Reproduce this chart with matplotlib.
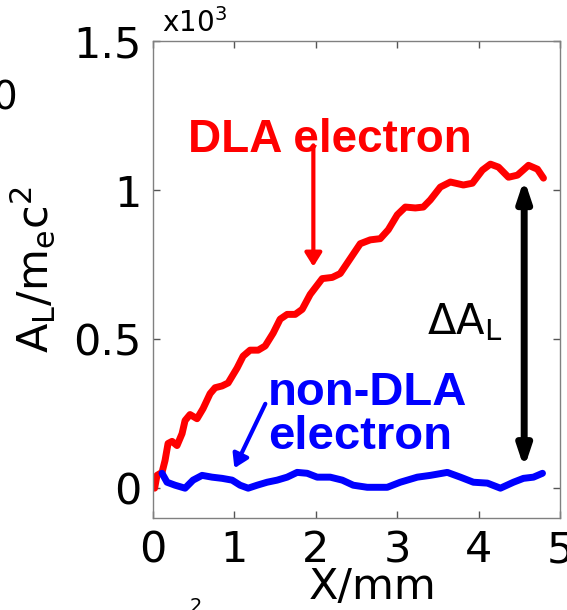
import matplotlib
matplotlib.use("Agg")
import matplotlib.pyplot as plt

# DLA electron: longitudinal work A_L (x10^3 m_e c^2) vs X (mm)
dla_x = [0.02, 0.049, 0.111, 0.148, 0.185, 0.234, 0.295, 0.357, 0.394, 0.455, 0.541,
         0.615, 0.701, 0.763, 0.849, 0.923, 1.033, 1.107, 1.193, 1.292, 1.378, 1.476,
         1.562, 1.648, 1.747, 1.833, 1.931, 2.079, 2.202, 2.300, 2.423, 2.546, 2.669,
         2.792, 2.891, 3.001, 3.100, 3.223, 3.321, 3.407, 3.530, 3.653, 3.813, 3.924,
         4.047, 4.145, 4.244, 4.367, 4.477, 4.613, 4.723, 4.797]
dla_y = [0.0, 0.043, 0.053, 0.093, 0.150, 0.157, 0.143, 0.183, 0.227, 0.247, 0.233,
         0.267, 0.317, 0.337, 0.343, 0.353, 0.403, 0.443, 0.463, 0.463, 0.477, 0.520,
         0.567, 0.583, 0.583, 0.600, 0.650, 0.703, 0.707, 0.720, 0.770, 0.820, 0.833,
         0.837, 0.867, 0.917, 0.943, 0.940, 0.943, 0.967, 1.010, 1.027, 1.017, 1.023,
         1.067, 1.087, 1.077, 1.043, 1.050, 1.083, 1.070, 1.040]

# non-DLA electron
non_x = [0.111, 0.172, 0.271, 0.394, 0.492, 0.603, 0.726, 0.849, 0.972, 1.070, 1.169,
         1.279, 1.402, 1.525, 1.648, 1.771, 1.894, 2.017, 2.177, 2.325, 2.460, 2.632,
         2.878, 3.038, 3.247, 3.407, 3.616, 3.776, 3.936, 4.108, 4.268, 4.428, 4.551,
         4.674, 4.785]
non_y = [0.050, 0.020, 0.010, 0.000, 0.027, 0.043, 0.037, 0.033, 0.027, 0.010, 0.000,
         0.010, 0.020, 0.027, 0.037, 0.053, 0.050, 0.037, 0.037, 0.027, 0.010, 0.003,
         0.003, 0.020, 0.037, 0.043, 0.053, 0.037, 0.020, 0.017, 0.000, 0.020, 0.033,
         0.037, 0.050]

xticks = [0, 1, 2, 3, 4, 5]
yticks = [0, 0.5, 1, 1.5]
ytick_labels = ["0", "0.5", "1", "1.5"]

fig = plt.figure(figsize=(5.67, 6.10), dpi=100)
ax = fig.add_axes([153 / 567, 1 - 518 / 610, 407 / 567, 477 / 610])

line_kw = dict(lw=5, solid_capstyle="round", solid_joinstyle="round")
ax.plot(dla_x, dla_y, color="red", **line_kw)
ax.plot(non_x, non_y, color="blue", **line_kw)

ax.set_xlim(0, 5)
ax.set_ylim(-0.1, 1.5)
ax.set_xticks(xticks)
ax.set_yticks(yticks)
ax.set_yticklabels(ytick_labels)
ax.tick_params(direction="in", top=True, right=True, length=5, width=1,
               color="#555555", labelsize=31, pad=8)
for s in ax.spines.values():
    s.set_color("#808080")
    s.set_linewidth(1)

ax.set_xlabel("X/mm", fontsize=31, labelpad=0)
ax.xaxis.set_label_coords(0.54, -0.1)
ax.set_ylabel(r"$\mathrm{A_L/m_ec^2}$", fontsize=31)
ax.yaxis.set_label_coords(-0.235, 0.52)

fig.text(162 / 567, 1 - 32 / 610, r"x10$^3$", fontsize=20)
# fragments of neighbouring panels
fig.text(17 / 567, 1 - 110 / 610, "0", fontsize=28, ha="right")
fig.text(190 / 567, 1 - 612 / 610, "2", fontsize=14)

bold = dict(family="Liberation Sans", weight="bold", fontsize=33)
ax.text(0.43, 1.127, "DLA electron", color="red", **bold)
ax.text(1.41, 0.133, "non-DLA\nelectron", color="blue", linespacing=1.0,
        family="Liberation Sans", weight="bold", fontsize=34)
ax.text(3.37, 0.517, r"$\Delta\mathrm{A_L}$", fontsize=30)

ax.annotate("", xy=(1.97, 0.743), xytext=(1.97, 1.15),
            arrowprops=dict(arrowstyle="-|>,head_length=0.8,head_width=0.5",
                            color="red", lw=3, shrinkA=0, shrinkB=0))
ax.annotate("", xy=(1.0, 0.067), xytext=(1.38, 0.283),
            arrowprops=dict(arrowstyle="-|>,head_length=0.8,head_width=0.5",
                            color="blue", lw=3, shrinkA=0, shrinkB=0))
ax.annotate("", xy=(4.56, 0.067), xytext=(4.56, 1.037),
            arrowprops=dict(arrowstyle="<|-|>,head_length=1.2,head_width=0.4",
                            color="black", lw=5, shrinkA=0, shrinkB=0))

fig.savefig("out.png", dpi=100)
